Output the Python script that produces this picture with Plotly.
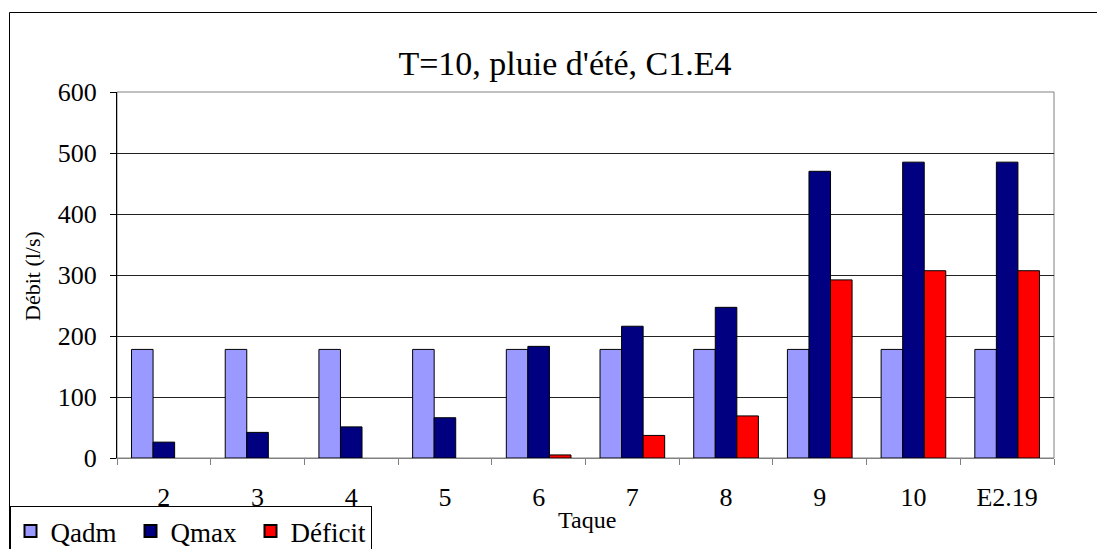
import plotly.graph_objects as go

categories = ["2", "3", "4", "5", "6", "7", "8", "9", "10", "E2.19"]
qadm = [178, 178, 178, 178, 178, 178, 178, 178, 178, 178]
qmax = [26, 42, 51, 66, 183, 216, 247, 470, 485, 485]
deficit = [None, None, None, None, 5, 37, 69, 292, 307, 307]

# page body has an 8px margin, so figure coordinates = screen coordinates - 8
OFF = 8
W, H = 1105 - OFF, 549 - OFF
L, R, T, B = 117 - OFF, 1054 - OFF, 92 - OFF, 458 - OFF
pw, ph = R - L, B - T

def px(x):
    return (x - OFF - L) / pw

def py(y):
    return (B - (y - OFF)) / ph

FONT = "Liberation Serif, Times New Roman, serif"
line = dict(color="black", width=1)

fig = go.Figure()
fig.add_trace(go.Bar(name="Qadm", x=categories, y=qadm, marker=dict(color="#9999FF", line=line)))
fig.add_trace(go.Bar(name="Qmax", x=categories, y=qmax, marker=dict(color="#000080", line=line)))
fig.add_trace(go.Bar(name="Déficit", x=categories, y=deficit, marker=dict(color="#FF0000", line=line)))

fig.update_layout(
    width=W, height=H,
    margin=dict(l=L, r=W - R, t=T, b=H - B, pad=0, autoexpand=False),
    paper_bgcolor="white", plot_bgcolor="white",
    barmode="group", bargap=0.31, bargroupgap=0,
    font=dict(family=FONT, color="black", size=26),
    title=dict(text="T=10, pluie d'été, C1.E4", x=px(565), xref="paper", xanchor="center",
               y=1 - (63 - OFF) / H, yref="container", yanchor="middle",
               font=dict(family=FONT, size=34, color="black")),
    showlegend=True,
    legend=dict(orientation="h", x=px(9.5), y=py(506), xanchor="left", yanchor="top",
                bordercolor="black", borderwidth=1, bgcolor="white",
                font=dict(family=FONT, size=27, color="black"),
                traceorder="normal", itemsizing="constant", tracegroupgap=0,
                entrywidth=75, entrywidthmode="pixels"),
    xaxis=dict(type="category", tickson="boundaries", ticks="outside", ticklen=6,
               tickcolor="#808080", showline=True, linecolor="#808080", linewidth=1,
               showgrid=False, ticklabelstandoff=16, automargin=False,
               tickfont=dict(family=FONT, size=26, color="black")),
    yaxis=dict(range=[0, 600], dtick=100, ticks="outside", ticklen=6, tickcolor="black",
               showline=True, linecolor="black", linewidth=1,
               showgrid=True, gridcolor="#222222", gridwidth=1, zeroline=False,
               ticklabelstandoff=8, automargin=False,
               tickfont=dict(family=FONT, size=26, color="black")),
    shapes=[
        dict(type="rect", xref="paper", yref="paper", x0=0, x1=1, y0=0, y1=1,
             line=dict(color="#808080", width=1), layer="below"),
        dict(type="rect", xref="paper", yref="paper", x0=px(9.5), x1=px(1125),
             y0=py(600), y1=py(12.5), line=dict(color="black", width=1), layer="below"),
    ],
    annotations=[
        dict(text="Débit (l/s)", x=px(32), y=py(276), xref="paper", yref="paper",
             textangle=-90, showarrow=False, xanchor="center", yanchor="middle",
             font=dict(family=FONT, size=22, color="black")),
        dict(text="Taque", x=px(587), y=py(520), xref="paper", yref="paper",
             showarrow=False, xanchor="center", yanchor="middle",
             font=dict(family=FONT, size=24, color="black")),
    ],
)

fig.write_html("out.html")
